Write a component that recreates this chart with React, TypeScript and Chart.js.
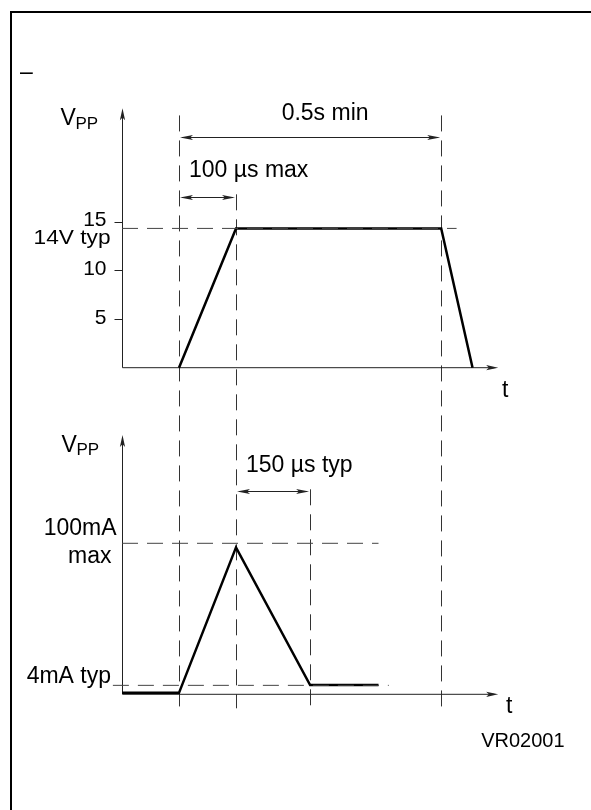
import { useEffect, useRef } from "react";
import { Chart, registerables } from "chart.js";

Chart.register(...registerables);

// ---- Data (schematic time units; voltage in V; current in schematic mA) ----
const vTime = [1.0, 2.0, 5.6, 6.15];
const vVolt = [0, 14.3, 14.3, 0];
const vTicks = [5, 10, 15];
const vTickLabels = ["5", "10", "15"];
const vTypLevel = 14.3;
const vTypLineEnd = 5.87;
const vAxisTop = 26.65;

const iTime = [0, 1.0, 2.0, 3.3, 4.5];
const iCurrent = [0.3, 0.3, 97.3, 5.5, 5.5];
const iMaxLevel = 100;
const iMaxLineEnd = 4.5;
const iTypLevel = 5.3;
const iTypLineStart = -0.16;
const iTypLineEnd = 4.68;
const iAxisTop = 172.2;

const timeAxisEnd = 6.6;
const guideTimes = [1.0, 2.0, 3.3, 5.6];
// guide top: [scale, value]; all guides end at current -10
const guideTops: [string, number][] = [
  ["yV", 25.9],
  ["yV", 17.8],
  ["yI", 136],
  ["yV", 25.9],
];
const guideBottomI = -10;

const dimTopStart = 1.0;
const dimTopEnd = 5.6;
const dimTopLevel = 23.7;
const dimRiseStart = 1.0;
const dimRiseEnd = 2.0;
const dimRiseLevel = 17.56;
const dimFallStart = 2.0;
const dimFallEnd = 3.3;
const dimFallLevel = 135;

const FONT = '"Liberation Sans", Arial, Helvetica, sans-serif';
const DASH = [16, 9];

function arrowHead(
  ctx: CanvasRenderingContext2D,
  x: number,
  y: number,
  dx: number,
  dy: number,
  len = 12,
  half = 2.6
) {
  const bx = x - dx * len;
  const by = y - dy * len;
  const nx = -dy;
  const ny = dx;
  ctx.beginPath();
  ctx.moveTo(x, y);
  ctx.lineTo(bx + nx * half, by + ny * half);
  ctx.lineTo(x - dx * len * 0.78, y - dy * len * 0.78);
  ctx.lineTo(bx - nx * half, by - ny * half);
  ctx.closePath();
  ctx.fill();
}

const diagramPlugin = {
  id: "diagram",
  beforeDatasetsDraw(chart: any) {
    const ctx: CanvasRenderingContext2D = chart.ctx;
    const xs = chart.scales.x;
    const sv = chart.scales.yV;
    const si = chart.scales.yI;
    const X = (t: number) => xs.getPixelForValue(t);
    const V = (v: number) => sv.getPixelForValue(v);
    const I = (i: number) => si.getPixelForValue(i);
    ctx.save();

    // white background
    ctx.fillStyle = "#fff";
    ctx.fillRect(0, 0, chart.width, chart.height);

    // frame (open to right & bottom)
    ctx.strokeStyle = "#000";
    ctx.lineWidth = 2;
    ctx.beginPath();
    ctx.moveTo(11, chart.height);
    ctx.lineTo(11, 12);
    ctx.lineTo(chart.width, 12);
    ctx.stroke();

    // vertical guides
    ctx.strokeStyle = "#333";
    ctx.lineWidth = 1;
    ctx.setLineDash(DASH);
    guideTimes.forEach((t, k) => {
      const [sc, val] = guideTops[k];
      const top = sc === "yV" ? V(val) : I(val);
      const px = Math.round(X(t)) + 0.5;
      ctx.beginPath();
      ctx.moveTo(px, top);
      ctx.lineTo(px, I(guideBottomI));
      ctx.stroke();
    });
    ctx.setLineDash([]);

    // axes
    ctx.strokeStyle = "#222";
    ctx.fillStyle = "#222";
    ctx.lineWidth = 1;
    const ax = Math.round(X(0)) + 0.5;
    // top
    ctx.beginPath();
    ctx.moveTo(ax, V(vAxisTop) + 4);
    ctx.lineTo(ax, V(0));
    ctx.lineTo(X(timeAxisEnd) - 4, V(0));
    ctx.stroke();
    arrowHead(ctx, ax, V(vAxisTop), 0, -1);
    arrowHead(ctx, X(timeAxisEnd), V(0), 1, 0);
    // bottom
    ctx.beginPath();
    ctx.moveTo(ax, I(iAxisTop) + 4);
    ctx.lineTo(ax, I(0) + 1);
    ctx.lineTo(X(timeAxisEnd) - 4, I(0) + 1);
    ctx.stroke();
    arrowHead(ctx, ax, I(iAxisTop), 0, -1);
    arrowHead(ctx, X(timeAxisEnd), I(0) + 1, 1, 0);

    // y ticks (top)
    vTicks.forEach((v) => {
      const py = Math.round(V(v)) + 0.5;
      ctx.beginPath();
      ctx.moveTo(ax - 8, py);
      ctx.lineTo(ax, py);
      ctx.stroke();
    });

    // dimension arrows
    const dim = (x1: number, x2: number, y: number) => {
      const py = Math.round(y) + 0.5;
      ctx.beginPath();
      ctx.moveTo(x1 + 3, py);
      ctx.lineTo(x2 - 3, py);
      ctx.stroke();
      arrowHead(ctx, x1 + 1, py, -1, 0, 13, 2.6);
      arrowHead(ctx, x2 - 1, py, 1, 0, 13, 2.6);
    };
    dim(X(dimTopStart), X(dimTopEnd), V(dimTopLevel));
    dim(X(dimRiseStart), X(dimRiseEnd), V(dimRiseLevel));
    dim(X(dimFallStart), X(dimFallEnd), I(dimFallLevel));

    // texts
    ctx.fillStyle = "#000";
    ctx.textBaseline = "alphabetic";
    const text = (
      s: string,
      x: number,
      y: number,
      align: CanvasTextAlign,
      size: number,
      sx = 1
    ) => {
      ctx.save();
      ctx.font = `${size}px ${FONT}`;
      ctx.textAlign = align;
      ctx.translate(x, y);
      ctx.scale(sx, 1);
      ctx.fillText(s, 0, 0);
      ctx.restore();
    };

    text("\u2013", 20, 79, "left", 23);

    // tick labels
    vTicks.forEach((v, k) => {
      text(vTickLabels[k], ax - 16, V(v) + 4.5, "right", 21);
    });
    text("14V typ", ax - 12, V(vTypLevel) + 15.5, "right", 21, 1.08);

    // V_PP labels
    text("V", ax - 62, V(vAxisTop) + 17, "left", 23);
    text("PP", ax - 47, V(vAxisTop) + 20.5, "left", 17);
    text("V", ax - 61, I(iAxisTop) + 16.7, "left", 23);
    text("PP", ax - 46, I(iAxisTop) + 20, "left", 17);

    // t labels
    text("t", X(timeAxisEnd) + 7, V(0) + 29, "center", 23);
    text("t", X(timeAxisEnd) + 11, I(0) + 20, "center", 23);

    // dimension labels
    text(
      "0.5s min",
      (X(dimTopStart) + X(dimTopEnd)) / 2 + 15,
      V(dimTopLevel) - 16.7,
      "center",
      23
    );
    text("100 \u00b5s max", X(dimRiseStart) + 10, V(dimRiseLevel) - 19.7, "left", 23);
    text("150 \u00b5s typ", X(dimFallStart) + 10, I(dimFallLevel) - 19, "left", 23);

    // current labels
    text("100mA", ax - 6, I(iMaxLevel) - 8.3, "right", 23);
    text("max", ax - 11, I(iMaxLevel) + 19.7, "right", 23);
    text("4mA typ", ax - 11.5, I(iTypLevel) - 2, "right", 23);

    text("VR02001", X(timeAxisEnd) - 17, I(0) + 53.7, "left", 20);

    ctx.restore();
  },
};

export default function App() {
  const ref = useRef<HTMLCanvasElement>(null);
  useEffect(() => {
    const canvas = ref.current;
    if (!canvas) return;
    const W = 591;
    const H = 810;
    const xPx0 = 122;
    const xPxPerUnit = 57;
    const vPx0 = 367.7;
    const vPxPerUnit = 9.74;
    const iPx0 = 693.3;
    const iPxPerUnit = 1.5;

    const dashedStyle = {
      borderColor: "#444",
      borderWidth: 1,
      borderDash: DASH,
      pointRadius: 0,
      showLine: true,
      fill: false,
    };
    const signalStyle = {
      borderColor: "#000",
      borderWidth: 2.5,
      pointRadius: 0,
      showLine: true,
      fill: false,
      tension: 0,
    };

    const chart = new Chart(canvas, {
      type: "scatter",
      data: {
        datasets: [
          {
            ...dashedStyle,
            label: "14V typ",
            yAxisID: "yV",
            data: [
              { x: 0, y: vTypLevel },
              { x: vTypLineEnd, y: vTypLevel },
            ],
          },
          {
            ...dashedStyle,
            label: "100mA max",
            yAxisID: "yI",
            data: [
              { x: 0, y: iMaxLevel },
              { x: iMaxLineEnd, y: iMaxLevel },
            ],
          },
          {
            ...dashedStyle,
            label: "4mA typ",
            yAxisID: "yI",
            data: [
              { x: iTypLineStart, y: iTypLevel },
              { x: iTypLineEnd, y: iTypLevel },
            ],
          },
          {
            ...signalStyle,
            label: "VPP voltage",
            yAxisID: "yV",
            data: vTime.map((t, k) => ({ x: t, y: vVolt[k] })),
          },
          {
            ...signalStyle,
            label: "VPP current",
            yAxisID: "yI",
            data: iTime.map((t, k) => ({ x: t, y: iCurrent[k] })),
          },
        ],
      },
      options: {
        responsive: false,
        animation: false,
        events: [],
        layout: { padding: 0 },
        plugins: {
          legend: { display: false },
          tooltip: { enabled: false },
          title: { display: false },
        },
        scales: {
          x: {
            type: "linear",
            display: false,
            min: -xPx0 / xPxPerUnit,
            max: (W - xPx0) / xPxPerUnit,
          },
          y: { type: "linear", display: false },
          yV: {
            type: "linear",
            display: false,
            min: -(H - vPx0) / vPxPerUnit,
            max: vPx0 / vPxPerUnit,
          },
          yI: {
            type: "linear",
            display: false,
            min: -(H - iPx0) / iPxPerUnit,
            max: iPx0 / iPxPerUnit,
          },
        },
      },
      plugins: [diagramPlugin],
    } as any);
    return () => chart.destroy();
  }, []);

  return (
    <div
      style={{
        position: "absolute",
        left: 0,
        top: 0,
        width: 591,
        height: 810,
        background: "#fff",
      }}
    >
      <canvas
        ref={ref}
        width={591}
        height={810}
        style={{ display: "block", width: 591, height: 810 }}
      />
    </div>
  );
}
